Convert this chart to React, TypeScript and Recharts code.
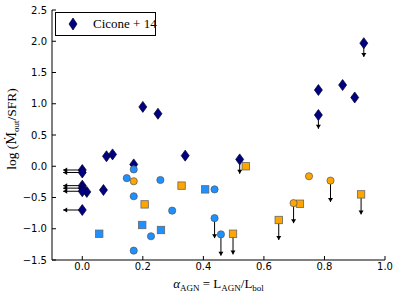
import { ScatterChart, Scatter, XAxis, YAxis, Legend, Label } from 'recharts'

const xTicks = [0, 0.2, 0.4, 0.6, 0.8, 1.0]
const yTicks = [-1.5, -1.0, -0.5, 0, 0.5, 1.0, 1.5, 2.0, 2.5]

// [alpha_AGN, log(Mdot/SFR)]
const cicone = [
  [0.2, 0.95], [0.25, 0.84], [0.93, 1.97], [0.78, 1.22], [0.86, 1.3], [0.9, 1.1], [0.78, 0.82],
  [0.08, 0.16], [0.1, 0.19], [0.17, 0.03], [0.34, 0.17], [0.015, -0.41], [0.07, -0.38], [0.52, 0.11],
  [0, -0.06], [0, -0.1], [0, -0.31], [0, -0.35], [0, -0.4], [0, -0.7],
]
const blueCircles = [
  [0.147, -0.19], [0.17, -0.05], [0.17, -0.48], [0.258, -0.22], [0.297, -0.71], [0.227, -1.12],
  [0.17, -1.35], [0.437, -0.37], [0.437, -0.83], [0.458, -1.09],
]
const blueSquares = [[0.056, -1.08], [0.198, -0.94], [0.26, -1.02], [0.406, -0.37]]
const orangeSquares = [
  [0.328, -0.31], [0.206, -0.61], [0.54, 0.0], [0.498, -1.08], [0.649, -0.86], [0.719, -0.6], [0.921, -0.45],
]
const orangeCircles = [[0.17, -0.24], [0.749, -0.16], [0.82, -0.23], [0.698, -0.59]]

// upper limits: [x, y, arrow tip y]
const upperLimits = [
  [0.93, 1.97, 1.75], [0.78, 0.82, 0.6], [0.52, 0.11, -0.12], [0.437, -0.83, -1.15], [0.458, -1.09, -1.43],
  [0.498, -1.08, -1.41], [0.649, -0.86, -1.18], [0.698, -0.59, -0.91], [0.82, -0.23, -0.57], [0.921, -0.45, -0.77],
]
// left pointing limits at x = 0: y values, tip x
const leftLimits = [-0.06, -0.1, -0.31, -0.35, -0.4, -0.7]
const leftTipX = -0.063

const toPts = (arr: number[][]) => arr.map(([x, y]) => ({ x, y }))

const fmt = (v: number) => (v < 0 ? '\u2212' + Math.abs(v).toFixed(1) : v.toFixed(1))

const Diamond = ({ cx, cy }: any) => (
  <polygon
    points={`${cx},${cy - 5.5} ${cx + 4},${cy} ${cx},${cy + 5.5} ${cx - 4},${cy}`}
    fill="#000080" stroke="#00002a" strokeWidth={0.7}
  />
)
const Dot = (color: string) => ({ cx, cy }: any) => (
  <circle cx={cx} cy={cy} r={3.6} fill={color} stroke="#555" strokeWidth={0.7} />
)
const Square = (color: string) => ({ cx, cy }: any) => (
  <rect x={cx - 3.7} y={cy - 3.7} width={7.4} height={7.4} fill={color} stroke="#666" strokeWidth={0.8} />
)
const ArrowHead = ({ cx, cy, payload }: any) => {
  if (payload.head === 'down')
    return <polygon points={`${cx - 2.5},${cy - 4} ${cx + 2.5},${cy - 4} ${cx},${cy}`} fill="#000" />
  if (payload.head === 'left')
    return <polygon points={`${cx + 4},${cy - 2.5} ${cx + 4},${cy + 2.5} ${cx},${cy}`} fill="#000" />
  return <g />
}

const tickStyle = { fill: '#000', fontSize: 10, fontFamily: 'DejaVu Sans' }
const serif = '"Liberation Serif", "DejaVu Serif", serif'

const XLabel = ({ viewBox }: any) => (
  <text x={viewBox.x + viewBox.width / 2} y={viewBox.y + 28} textAnchor="middle" fontFamily={serif} fontSize={13} fill="#000">
    <tspan fontStyle="italic">α</tspan>
    <tspan fontSize={9} dy={3}>AGN</tspan>
    <tspan dy={-3}> = L</tspan>
    <tspan fontSize={9} dy={3}>AGN</tspan>
    <tspan dy={-3}>/L</tspan>
    <tspan fontSize={9} dy={3}>bol</tspan>
  </text>
)

const YLabel = ({ viewBox }: any) => {
  const x = 16
  const y = viewBox.y + viewBox.height / 2 - 6
  return (
    <text x={x} y={y} transform={`rotate(-90, ${x}, ${y})`} textAnchor="middle" fontFamily={serif} fontSize={13.5} fill="#000">
      <tspan>log (</tspan>
      <tspan fontFamily='"DejaVu Serif", serif' fontSize={12.5}>{'\u1E40'}</tspan>
      <tspan fontSize={9} dy={3}>out</tspan>
      <tspan dy={-3}>/SFR)</tspan>
    </text>
  )
}

const LegendBox = () => (
  <div style={{ border: '1px solid #000', background: '#fff', width: 101, height: 24, display: 'flex', alignItems: 'center', boxSizing: 'border-box', whiteSpace: 'nowrap' }}>
    <svg width={37} height={22} style={{ flex: 'none' }}>
      <polygon points="17,5 21,11 17,17 13,11" fill="#000080" stroke="#00002a" strokeWidth={0.7} />
    </svg>
    <span style={{ fontFamily: serif, fontSize: 13, lineHeight: '14px' }}>Cicone + 14</span>
  </div>
)

export default function App() {
  return (
    <div style={{ position: 'absolute', left: 0, top: 0, background: '#fff' }}>
      <ScatterChart width={398} height={295} margin={{ top: 10, right: 13, bottom: 0, left: 0 }}>
        <XAxis xAxisId="b" type="number" dataKey="x" domain={[-0.1, 1.0]} ticks={xTicks} interval={0} allowDataOverflow
          height={35} tickSize={-4} tickMargin={7} tickFormatter={fmt} stroke="#000" tick={tickStyle}>
          <Label content={XLabel} />
        </XAxis>
        <XAxis xAxisId="t" orientation="top" type="number" dataKey="x" domain={[-0.1, 1.0]} ticks={xTicks} interval={0}
          allowDataOverflow height={0} tickSize={-4} tick={false} stroke="#000" />
        <YAxis yAxisId="l" type="number" dataKey="y" domain={[-1.5, 2.5]} ticks={yTicks} interval={0} allowDataOverflow
          width={52} tickSize={-4} tickMargin={9} tickFormatter={fmt} stroke="#000" tick={tickStyle}>
          <Label content={YLabel} />
        </YAxis>
        <YAxis yAxisId="r" orientation="right" type="number" dataKey="y" domain={[-1.5, 2.5]} ticks={yTicks} interval={0}
          allowDataOverflow width={0} tickSize={-4} tick={false} stroke="#000" />
        <Legend layout="vertical" align="center" verticalAlign="middle" content={LegendBox}
          wrapperStyle={{ left: 55, top: 12, width: 101, height: 24 }} />

        {upperLimits.map(([x, y, tip], i) => (
          <Scatter key={'u' + i} xAxisId="b" yAxisId="l" data={[{ x, y }, { x, y: tip, head: 'down' }]}
            line={{ stroke: '#000', strokeWidth: 1 }} shape={ArrowHead} isAnimationActive={false} legendType="none" />
        ))}
        {leftLimits.map((y, i) => (
          <Scatter key={'l' + i} xAxisId="b" yAxisId="l" data={[{ x: 0, y }, { x: leftTipX, y, head: 'left' }]}
            line={{ stroke: '#000', strokeWidth: 1 }} shape={ArrowHead} isAnimationActive={false} legendType="none" />
        ))}

        <Scatter xAxisId="b" yAxisId="l" data={toPts(cicone)} shape={Diamond} isAnimationActive={false} />
        <Scatter xAxisId="b" yAxisId="l" data={toPts(blueCircles)} shape={Dot('#1E90FF')} isAnimationActive={false} />
        <Scatter xAxisId="b" yAxisId="l" data={toPts(blueSquares)} shape={Square('#1E90FF')} isAnimationActive={false} />
        <Scatter xAxisId="b" yAxisId="l" data={toPts(orangeSquares)} shape={Square('#FFA500')} isAnimationActive={false} />
        <Scatter xAxisId="b" yAxisId="l" data={toPts(orangeCircles)} shape={Dot('#FFA500')} isAnimationActive={false} />
      </ScatterChart>
    </div>
  )
}
